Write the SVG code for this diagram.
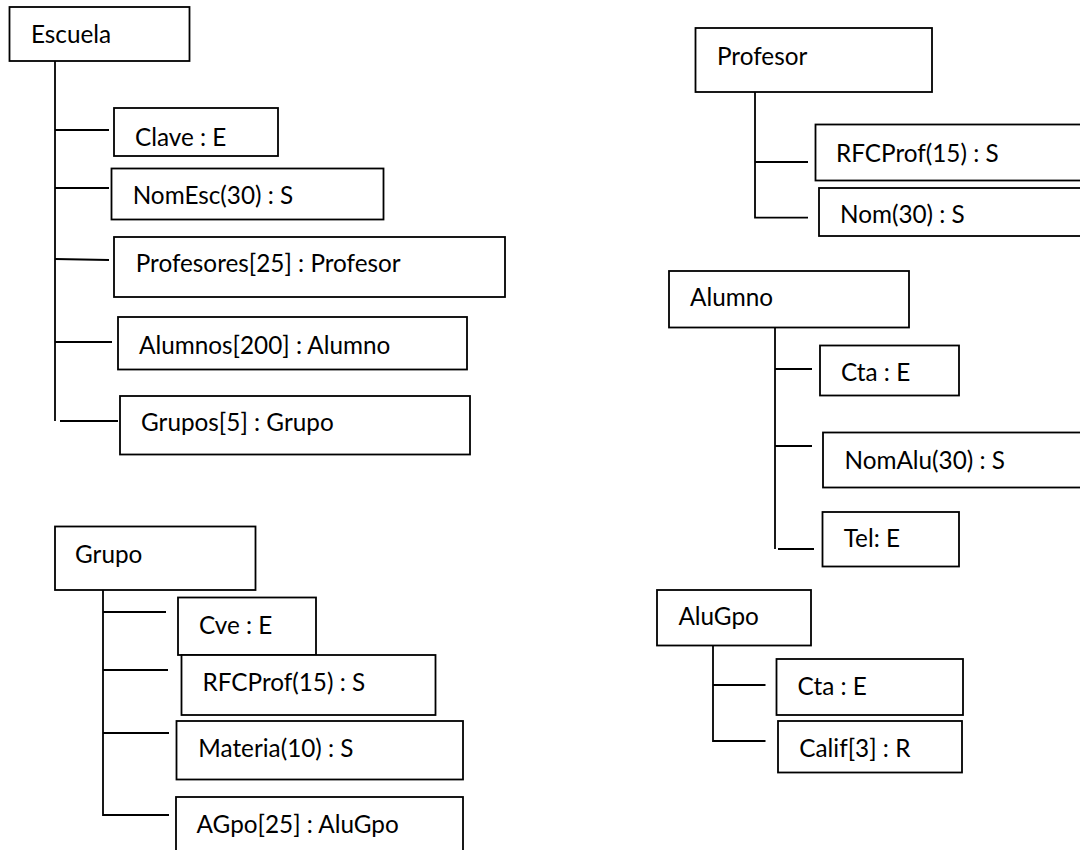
<svg xmlns="http://www.w3.org/2000/svg" width="1080" height="850" viewBox="0 0 1080 850">
  <style>
    .box { fill: #ffffff; stroke: #000000; stroke-width: 1.8; }
    .lbl { font-family: Lato, "Liberation Sans", sans-serif; font-size: 24.3px; fill: #000000; }
    .wire { fill: none; stroke: #000000; stroke-width: 1.8; }
  </style>
  <rect width="1080" height="850" fill="#ffffff"/>

  <!-- tree connectors -->
  <g id="connectors">
    <!-- Escuela -->
    <path class="wire" d="M55,61 V421"/>
    <path class="wire" d="M55,130 H109"/>
    <path class="wire" d="M55,188 H109"/>
    <path class="wire" d="M55,259 L109,260"/>
    <path class="wire" d="M55,342 H112"/>
    <path class="wire" d="M60,421 H118"/>
    <!-- Profesor -->
    <path class="wire" d="M755,92 V217.7 H808"/>
    <path class="wire" d="M755,162 H808"/>
    <!-- Alumno -->
    <path class="wire" d="M775,327 V549"/>
    <path class="wire" d="M775,369 H812"/>
    <path class="wire" d="M775,446 H812"/>
    <path class="wire" d="M778,549 H814"/>
    <!-- AluGpo -->
    <path class="wire" d="M713,646 V741 H765.5"/>
    <path class="wire" d="M713,685 H765.5"/>
    <!-- Grupo -->
    <path class="wire" d="M103,590 V815 H169"/>
    <path class="wire" d="M103,612 H166"/>
    <path class="wire" d="M103,670 H168"/>
    <path class="wire" d="M103,733 H169"/>
  </g>

  <!-- Escuela record -->
  <g id="escuela">
    <rect class="box" x="9.5" y="7" width="180" height="54"/>
    <text class="lbl" x="31" y="43">Escuela</text>
  </g>
  <g id="escuela-clave">
    <rect class="box" x="114" y="108" width="164" height="48"/>
    <text class="lbl" x="135" y="146">Clave : E</text>
  </g>
  <g id="escuela-nomesc">
    <rect class="box" x="111.5" y="168.5" width="272" height="51"/>
    <text class="lbl" x="132.7" y="204">NomEsc(30) : S</text>
  </g>
  <g id="escuela-profesores">
    <rect class="box" x="114" y="237" width="391" height="60"/>
    <text class="lbl" x="135.7" y="272">Profesores[25] : Profesor</text>
  </g>
  <g id="escuela-alumnos">
    <rect class="box" x="118" y="317" width="349" height="52.5"/>
    <text class="lbl" x="139" y="353.5">Alumnos[200] : Alumno</text>
  </g>
  <g id="escuela-grupos">
    <rect class="box" x="120" y="396" width="350" height="58.5"/>
    <text class="lbl" x="141" y="431">Grupos[5] : Grupo</text>
  </g>

  <!-- Profesor record -->
  <g id="profesor">
    <rect class="box" x="695.5" y="28" width="236.5" height="64"/>
    <text class="lbl" x="717" y="65">Profesor</text>
  </g>
  <g id="profesor-rfcprof">
    <rect class="box" x="815.5" y="124.5" width="270" height="56"/>
    <text class="lbl" x="836" y="161.5">RFCProf(15) : S</text>
  </g>
  <g id="profesor-nom">
    <rect class="box" x="819" y="188" width="266" height="48"/>
    <text class="lbl" x="840" y="223.3">Nom(30) : S</text>
  </g>

  <!-- Alumno record -->
  <g id="alumno">
    <rect class="box" x="669" y="271" width="240" height="56.5"/>
    <text class="lbl" x="690" y="306">Alumno</text>
  </g>
  <g id="alumno-cta">
    <rect class="box" x="820" y="345.5" width="139" height="50"/>
    <text class="lbl" x="841" y="381">Cta : E</text>
  </g>
  <g id="alumno-nomalu">
    <rect class="box" x="823" y="432.5" width="262" height="55"/>
    <text class="lbl" x="844.5" y="469.3">NomAlu(30) : S</text>
  </g>
  <g id="alumno-tel">
    <rect class="box" x="822.5" y="512" width="136.5" height="54.5"/>
    <text class="lbl" x="843.7" y="547.3">Tel: E</text>
  </g>

  <!-- AluGpo record -->
  <g id="alugpo">
    <rect class="box" x="657" y="590" width="154" height="55.5"/>
    <text class="lbl" x="678.4" y="625">AluGpo</text>
  </g>
  <g id="alugpo-cta">
    <rect class="box" x="776.5" y="659" width="186.5" height="56"/>
    <text class="lbl" x="797.6" y="695">Cta : E</text>
  </g>
  <g id="alugpo-calif">
    <rect class="box" x="778" y="721" width="184" height="51.5"/>
    <text class="lbl" x="799.3" y="756.7">Calif[3] : R</text>
  </g>

  <!-- Grupo record -->
  <g id="grupo">
    <rect class="box" x="55" y="526.5" width="200.5" height="63.5"/>
    <text class="lbl" x="75" y="563.3">Grupo</text>
  </g>
  <g id="grupo-cve">
    <rect class="box" x="178" y="597.5" width="138" height="57.5"/>
    <text class="lbl" x="199" y="634">Cve : E</text>
  </g>
  <g id="grupo-rfcprof">
    <rect class="box" x="181.5" y="655" width="254" height="60"/>
    <text class="lbl" x="202.5" y="690.7">RFCProf(15) : S</text>
  </g>
  <g id="grupo-materia">
    <rect class="box" x="176.5" y="721" width="286.5" height="58.5"/>
    <text class="lbl" x="198.3" y="756.7">Materia(10) : S</text>
  </g>
  <g id="grupo-agpo">
    <rect class="box" x="176" y="797" width="287" height="60"/>
    <text class="lbl" x="196.6" y="833.3">AGpo[25] : AluGpo</text>
  </g>
</svg>
